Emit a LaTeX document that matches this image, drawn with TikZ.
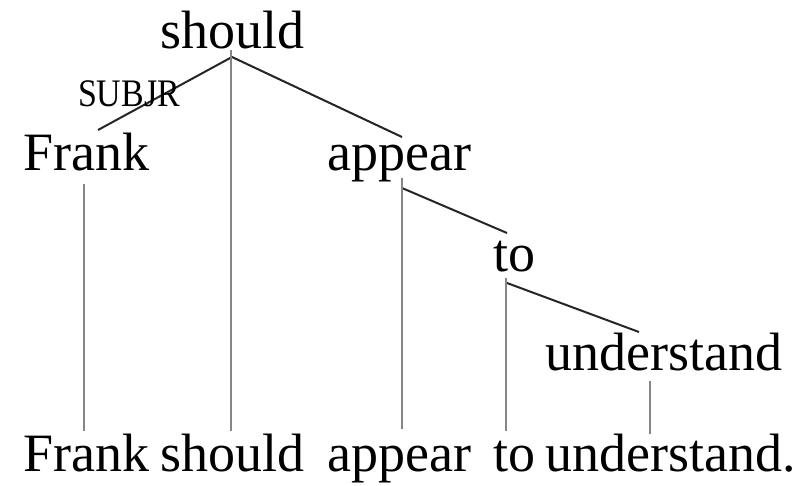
\documentclass[tikz,border=0pt]{standalone}
\usepackage{fontspec}
\setmainfont{Liberation Serif}
\usetikzlibrary{calc}

\newcommand{\wordfont}{\fontsize{54}{60}\selectfont}
\newcommand{\relfont}{\fontsize{39}{44}\selectfont}

\begin{document}
\begin{tikzpicture}[x=1pt,y=-1pt,
    word/.style={anchor=base west, inner sep=0pt, font=\wordfont},
    rel/.style={anchor=base, inner sep=0pt, font=\relfont, xscale=0.87},
    dep/.style={line width=2pt, black!85},
    proj/.style={line width=2pt, gray!95}]
    \fill[white] (0,0) rectangle (806,485);
    \useasboundingbox (0,0) rectangle (806,485);
    % tree
    \node[word] (should) at (160,48) {should};
    \node[word] (frank) at (23,170) {Frank};
    \node[word] (appear) at (327,170) {appear};
    \node[word] (to) at (493,271.5) {to};
    \node[word] (understand) at (545,370.5) {understand};
    % sentence
    \node[word] (frankS) at (23,471) {Frank};
    \node[word] (shouldS) at (160,471) {should};
    \node[word] (appearS) at (327,471) {appear};
    \node[word] (toS) at (493,471) {to};
    \node[word] (understandS) at (545,471) {understand.};
    % dependencies
    \draw[dep] ([shift={(72,9)}]should.base west) -- ([shift={(75,-40)}]frank.base west);
    \draw[dep] ([shift={(72,9)}]should.base west) -- ([shift={(75,-33)}]appear.base west);
    \draw[dep] ([shift={(75,18)}]appear.base west) -- ([shift={(14,-38.5)}]to.base west);
    \draw[dep] ([shift={(14,11.5)}]to.base west) -- ([shift={(94,-38.5)}]understand.base west);
    \node[rel] (subjr) at (129,106.7) {SUBJR};
    % projection lines
    \draw[proj] ([shift={(61,14)}]frank.base west) -- ([shift={(61,-40)}]frankS.base west);
    \draw[proj] ([shift={(71,2)}]should.base west) -- ([shift={(71,-40)}]shouldS.base west);
    \draw[proj] ([shift={(75,8)}]appear.base west) -- ([shift={(75,-42)}]appearS.base west);
    \draw[proj] ([shift={(13,6.5)}]to.base west) -- ([shift={(13,-40)}]toS.base west);
    \draw[proj] ([shift={(105,10.5)}]understand.base west) -- ([shift={(105,-37)}]understandS.base west);
\end{tikzpicture}
\end{document}
